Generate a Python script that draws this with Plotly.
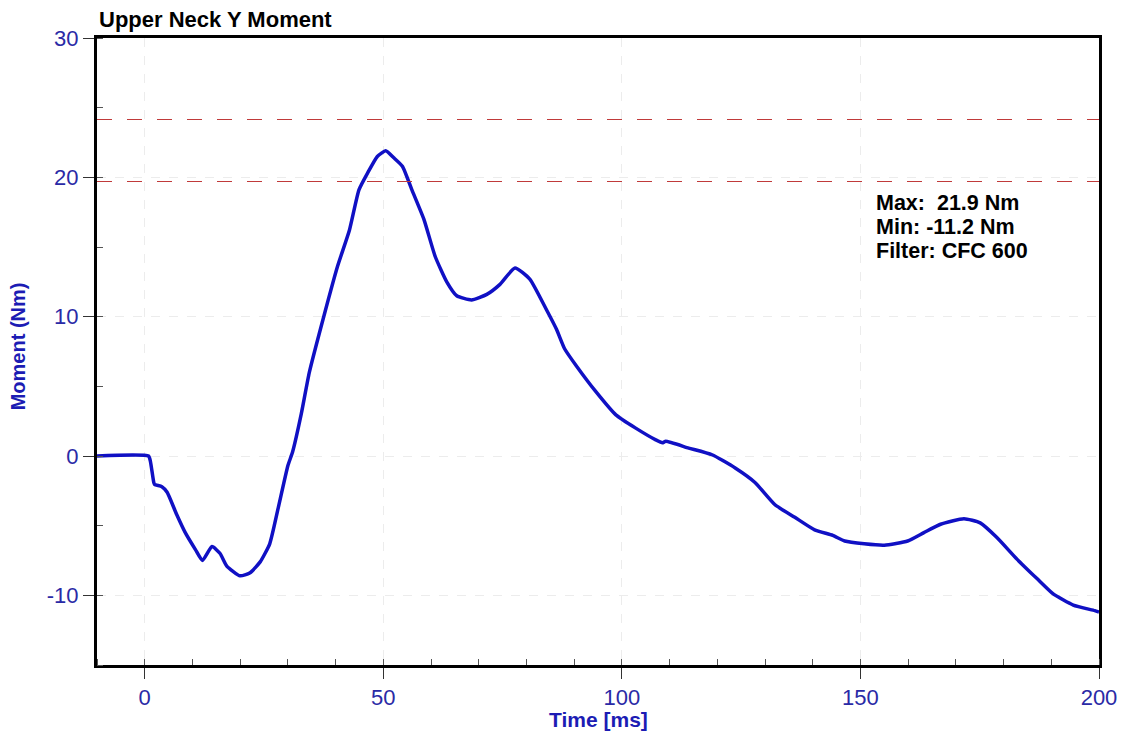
import plotly.graph_objects as go

# Data
time_ms = [-10, 0.8, 1.2, 1.9, 2.1, 3.6, 4.7, 6.7, 8.5, 10.6, 12.1, 14.1, 15.8, 17.2,
           20.0, 22.0, 24.2, 26.2, 28.0, 30.0, 31.0, 32.8, 34.5, 37.6, 40.4, 42.9,
           44.9, 46.7, 48.75, 50.5, 52.2, 54.0, 56.0, 58.5, 60.9, 63.3, 65.4, 68.5,
           71.7, 74.4, 77.6, 80.7, 84.2, 86.3, 88.0, 90.4, 94.6, 98.75, 102.9, 107.1,
           108.5, 109.2, 114.0, 118.9, 123.75, 127.9, 132.1, 136.25, 140.4, 144.2,
           146.7, 150.8, 155.0, 159.9, 163.3, 166.8, 171.7, 175.1, 178.6, 182.8,
           187.0, 190.4, 194.6, 199.1, 200.0]
moment_nm = [0, 0, -0.4, -1.9, -2.05, -2.2, -2.6, -4.2, -5.5, -6.7, -7.5, -6.5, -7.0, -7.9,
             -8.6, -8.4, -7.6, -6.3, -3.7, -0.7, 0.3, 3.0, 6.0, 10.1, 13.6, 16.2,
             19.1, 20.3, 21.5, 21.9, 21.4, 20.8, 19.1, 17.0, 14.3, 12.5, 11.5, 11.2,
             11.6, 12.3, 13.5, 12.7, 10.5, 9.1, 7.7, 6.5, 4.6, 2.95, 2.0, 1.16,
             0.95, 1.05, 0.57, 0.09, -0.86, -1.9, -3.5, -4.4, -5.3, -5.7,
             -6.1, -6.3, -6.4, -6.1, -5.5, -4.9, -4.5, -4.8, -5.85, -7.4,
             -8.8, -9.9, -10.7, -11.1, -11.2]

limit_lines = [24.15, 19.7]
x_ticks = [0, 50, 100, 150, 200]
y_ticks = [-10, 0, 10, 20, 30]
stats_text = ["Max:  21.9 Nm", "Min: -11.2 Nm", "Filter: CFC 600"]

FONT = "Liberation Sans, Arial, sans-serif"
TICK_COLOR = "#2a2aa6"
TITLE_COLOR = "#1c1cb4"

fig = go.Figure()
fig.add_trace(go.Scatter(x=time_ms, y=moment_nm, mode="lines",
                         line=dict(color="#1010c4", width=3.5, shape="spline", smoothing=0.5),
                         hoverinfo="x+y", showlegend=False))

for yv in limit_lines:
    fig.add_hline(y=yv, line=dict(color="#c03a3a", width=1.2, dash="15px,15px"))

fig.update_layout(
    width=1129, height=734,
    margin=dict(l=97, r=25, t=38, b=69),
    paper_bgcolor="white", plot_bgcolor="white",
    font=dict(family=FONT),
    showlegend=False,
)

fig.update_xaxes(
    range=[-10, 200], tickvals=x_ticks, ticktext=[str(v) for v in x_ticks],
    ticks="outside", ticklen=11, tickwidth=1, tickcolor="#333",
    minor=dict(dtick=10, tick0=0, ticks="inside", ticklen=6, tickcolor="#555", showgrid=False),
    showline=True, linecolor="black", linewidth=3, mirror=True,
    showgrid=True, gridcolor="#ececec", griddash="dash", gridwidth=1,
    tickfont=dict(size=22, color=TICK_COLOR, family=FONT),
    zeroline=False,
)
fig.update_yaxes(
    range=[-15, 30], tickvals=y_ticks, ticktext=[str(v) for v in y_ticks],
    ticks="outside", ticklen=11, tickwidth=1, tickcolor="#333",
    minor=dict(dtick=5, tick0=0, ticks="inside", ticklen=6, tickcolor="#555", showgrid=False),
    showline=True, linecolor="black", linewidth=3, mirror=True,
    showgrid=True, gridcolor="#ececec", griddash="dash", gridwidth=1,
    tickfont=dict(size=22, color=TICK_COLOR, family=FONT),
    zeroline=False,
)

# Chart title
fig.add_annotation(text="<b>Upper Neck Y Moment</b>", xref="paper", yref="paper",
                   x=0.0, y=1.0303, xanchor="left", yanchor="middle",
                   showarrow=False, font=dict(size=22, color="black", family=FONT))
# Axis titles
fig.add_annotation(text="<b>Time [ms]</b>", xref="paper", yref="paper",
                   x=0.5, y=-0.0877, xanchor="center", yanchor="middle",
                   showarrow=False, font=dict(size=21, color=TITLE_COLOR, family=FONT))
fig.add_annotation(text="<b>Moment (Nm)</b>", xref="paper", yref="paper",
                   x=-0.0785, y=0.5088, xanchor="center", yanchor="middle", textangle=-90,
                   showarrow=False, font=dict(size=20, color=TITLE_COLOR, family=FONT))
# Stats box, one annotation per line for tight line spacing
for line_text, ypos in zip(stats_text, [0.7368, 0.6986, 0.6603]):
    fig.add_annotation(text="<b>" + line_text + "</b>", xref="paper", yref="paper",
                       x=0.7756, y=ypos, xanchor="left", yanchor="middle", align="left",
                       showarrow=False, font=dict(size=21.5, color="black", family=FONT))

# pin the figure to the page corner so no body margin or overflow changes its placement
post = ("document.body.style.margin='0px';"
        "document.body.style.overflow='hidden';"
        "var gd=document.getElementById('{plot_id}');"
        "gd.style.position='fixed';gd.style.left='0px';gd.style.top='0px';")
fig.write_html("out.html", config={"displayModeBar": False}, post_script=post)
